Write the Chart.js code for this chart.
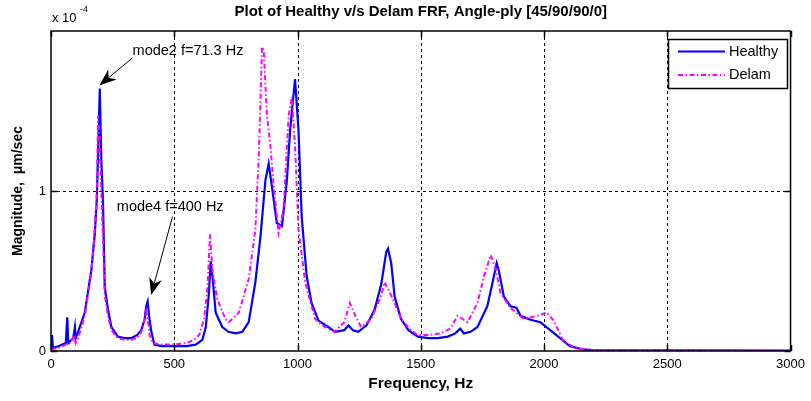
<!DOCTYPE html>
<html>
<head>
<meta charset="utf-8">
<script src="https://cdn.jsdelivr.net/npm/chart.js@4.4.1/dist/chart.umd.min.js"></script>
<style>
  html, body { margin: 0; padding: 0; background: #fff; }
</style>
</head>
<body>
<canvas id="frfChart" width="811" height="401"></canvas>
<script>
// FRF magnitude (x 1e-4 um/sec) against frequency (Hz)
const freqHealthy = [0, 4, 8, 30, 60, 66, 70, 90, 97, 100, 110, 137, 150, 164, 177, 186, 192, 198, 204, 211,
  218, 231, 245, 271, 300, 325, 350, 366, 380, 386, 392, 398, 406, 419, 450, 500, 550, 587, 614, 628,
  640, 648, 656, 668, 695, 720, 749, 776, 802, 829, 850, 870, 883, 896, 916, 937, 957, 970, 990, 1004,
  1017, 1037, 1057, 1085, 1125, 1152, 1190, 1206, 1225, 1246, 1280, 1313, 1340, 1360, 1367, 1380, 1394,
  1420, 1450, 1488, 1530, 1569, 1610, 1640, 1660, 1675, 1702, 1730, 1770, 1790, 1808, 1817, 1837, 1864,
  1888, 1905, 1945, 1985, 2025, 2065, 2105, 2158, 2200, 2500, 3000];
const magHealthy = [0.02, 0.10, 0.02, 0.03, 0.05, 0.21, 0.05, 0.08, 0.15, 0.08, 0.12, 0.24, 0.37, 0.51, 0.72, 0.95, 1.30, 1.64, 1.20, 0.93,
  0.40, 0.26, 0.15, 0.09, 0.08, 0.08, 0.10, 0.13, 0.20, 0.28, 0.31, 0.22, 0.13, 0.04, 0.03, 0.03, 0.03, 0.04, 0.07, 0.15,
  0.35, 0.56, 0.45, 0.24, 0.15, 0.12, 0.11, 0.12, 0.18, 0.43, 0.72, 1.07, 1.17, 1.03, 0.80, 0.78, 1.07, 1.38, 1.70, 1.38,
  0.84, 0.47, 0.30, 0.19, 0.15, 0.12, 0.13, 0.16, 0.13, 0.12, 0.16, 0.26, 0.42, 0.62, 0.64, 0.55, 0.34,
  0.20, 0.13, 0.09, 0.08, 0.08, 0.09, 0.11, 0.14, 0.11, 0.12, 0.15, 0.28, 0.42, 0.55, 0.50, 0.34, 0.28,
  0.27, 0.22, 0.195, 0.18, 0.13, 0.08, 0.03, 0.01, 0.005, 0.004, 0.003];

const freqDelam = [0, 30, 60, 80, 95, 100, 110, 137, 150, 164, 177, 186, 191, 196, 204, 211, 218, 231, 245, 271,
  300, 325, 350, 366, 380, 386, 392, 400, 412, 450, 500, 550, 580, 601, 621, 635, 645, 655, 675, 708,
  722, 762, 802, 829, 843, 856, 863, 876, 889, 903, 923, 943, 964, 977, 990, 1004, 1031, 1071, 1110, 1150,
  1190, 1212, 1235, 1258, 1300, 1340, 1353, 1370, 1394, 1420, 1460, 1488, 1528, 1580, 1620, 1649, 1670, 1690,
  1730, 1757, 1784, 1804, 1824, 1864, 1918, 1972, 2012, 2039, 2079, 2132, 2200, 2500, 3000];
const magDelam = [0.01, 0.02, 0.04, 0.05, 0.10, 0.05, 0.08, 0.22, 0.35, 0.50, 0.75, 1.00, 1.47, 1.35, 1.00, 0.70, 0.35, 0.22, 0.13, 0.08,
  0.07, 0.07, 0.08, 0.12, 0.20, 0.25, 0.20, 0.10, 0.05, 0.04, 0.04, 0.05, 0.07, 0.10, 0.20, 0.40, 0.73, 0.50, 0.32, 0.20,
  0.18, 0.24, 0.45, 0.76, 1.22, 1.90, 1.88, 1.47, 1.30, 1.04, 0.74, 0.88, 1.47, 1.59, 1.28, 0.76, 0.43, 0.20, 0.15, 0.12,
  0.18, 0.30, 0.22, 0.15, 0.20, 0.35, 0.43, 0.38, 0.30, 0.20, 0.13, 0.10, 0.10, 0.11, 0.14, 0.22, 0.20, 0.18,
  0.30, 0.47, 0.60, 0.51, 0.36, 0.27, 0.20, 0.22, 0.24, 0.19, 0.06, 0.015, 0.005, 0.004, 0.003];

const xTicks = [0, 500, 1000, 1500, 2000, 2500, 3000];
const yTicks = [0, 1];
const seriesNames = ['Healthy', 'Delam'];

const FONT = "'Liberation Sans', Arial, sans-serif";
const BLUE = '#0000ff';
const MAGENTA = '#ff00ff';
const DASHDOT = [5, 2.5, 1.5, 2.5];

const toPoints = (xs, ys) => xs.map((f, i) => ({ x: f, y: ys[i] }));

// line with a notched, filled head at (x1, y1)
function drawArrow(ctx, x0, y0, x1, y1) {
  const ang = Math.atan2(y1 - y0, x1 - x0);
  const c = Math.cos(ang), s = Math.sin(ang);
  const len = 17, half = 6.5, notch = 12;
  const nx = x1 - c * notch, ny = y1 - s * notch;
  const bx = x1 - c * len, by = y1 - s * len;
  ctx.beginPath();
  ctx.moveTo(x0, y0);
  ctx.lineTo(nx, ny);
  ctx.stroke();
  ctx.beginPath();
  ctx.moveTo(x1, y1);
  ctx.lineTo(bx + s * half, by - c * half);
  ctx.lineTo(nx, ny);
  ctx.lineTo(bx - s * half, by + c * half);
  ctx.closePath();
  ctx.fill();
}

const framePlugin = {
  id: 'frame',
  beforeDatasetsDraw(chart) {
    const { ctx, chartArea: a, scales: { x, y } } = chart;
    ctx.save();
    ctx.strokeStyle = '#000';
    ctx.lineWidth = 1;
    ctx.setLineDash([3, 3]);
    xTicks.slice(1, -1).forEach(v => {
      const px = Math.round(x.getPixelForValue(v)) + 0.5;
      ctx.beginPath(); ctx.moveTo(px, a.top); ctx.lineTo(px, a.bottom); ctx.stroke();
    });
    yTicks.slice(1).forEach(v => {
      const py = Math.round(y.getPixelForValue(v)) + 0.5;
      ctx.beginPath(); ctx.moveTo(a.left, py); ctx.lineTo(a.right, py); ctx.stroke();
    });
    ctx.restore();
  },
  afterDatasetsDraw(chart) {
    const { ctx, chartArea: a, scales: { x, y } } = chart;
    ctx.save();
    ctx.strokeStyle = '#000';
    ctx.lineWidth = 1.5;
    ctx.strokeRect(a.left, a.top, a.right - a.left, a.bottom - a.top);
    const t = 6;
    xTicks.forEach(v => {
      const px = Math.round(x.getPixelForValue(v)) + 0.5;
      ctx.beginPath();
      ctx.moveTo(px, a.bottom); ctx.lineTo(px, a.bottom - t);
      ctx.moveTo(px, a.top); ctx.lineTo(px, a.top + t);
      ctx.stroke();
    });
    yTicks.forEach(v => {
      const py = Math.round(y.getPixelForValue(v)) + 0.5;
      ctx.beginPath();
      ctx.moveTo(a.left, py); ctx.lineTo(a.left + t, py);
      ctx.moveTo(a.right, py); ctx.lineTo(a.right - t, py);
      ctx.stroke();
    });
    ctx.restore();
  },
  afterDraw(chart) {
    const { ctx, chartArea: a, scales: { x, y } } = chart;
    const cx = (a.left + a.right) / 2;
    ctx.save();
    ctx.fillStyle = '#000';
    ctx.textBaseline = 'middle';

    // title and axis labels
    ctx.font = 'bold 15px ' + FONT;
    ctx.textAlign = 'center';
    ctx.fillText('Plot of Healthy v/s Delam FRF, Angle-ply [45/90/90/0]', cx, 12);
    ctx.font = 'bold 15.5px ' + FONT;
    ctx.fillText('Frequency, Hz', cx, 384);
    ctx.save();
    ctx.translate(18, (a.top + a.bottom) / 2);
    ctx.rotate(-Math.PI / 2);
    ctx.font = 'bold 14px ' + FONT;
    ctx.fillText('Magnitude,  \u03bcm/sec', 0, 0);
    ctx.restore();

    // exponent of the y axis
    ctx.font = '13px ' + FONT;
    ctx.textAlign = 'left';
    ctx.fillText('x 10', 52, 18);
    ctx.font = '9px ' + FONT;
    ctx.fillText('-4', 80, 10);

    // mode annotations
    ctx.font = '14.5px ' + FONT;
    ctx.strokeStyle = '#000';
    ctx.lineWidth = 1;
    ctx.fillText('mode2 f=71.3 Hz', x.getPixelForValue(331), y.getPixelForValue(1.875));
    drawArrow(ctx, x.getPixelForValue(329), y.getPixelForValue(1.83), x.getPixelForValue(196), y.getPixelForValue(1.66));
    ctx.fillText('mode4 f=400 Hz', x.getPixelForValue(267), y.getPixelForValue(0.9));
    drawArrow(ctx, x.getPixelForValue(493), y.getPixelForValue(0.84), x.getPixelForValue(406), y.getPixelForValue(0.35));

    // legend box
    const lx = 668, ly = 39, lw = 119, lh = 49;
    ctx.fillStyle = '#fff';
    ctx.fillRect(lx, ly, lw, lh);
    ctx.strokeStyle = '#000';
    ctx.lineWidth = 1.5;
    ctx.strokeRect(lx + 0.5, ly + 0.5, lw, lh);
    const rows = [
      { name: seriesNames[0], color: BLUE, dash: [], yy: 51.5 },
      { name: seriesNames[1], color: MAGENTA, dash: DASHDOT, yy: 75 }
    ];
    ctx.font = '14.5px ' + FONT;
    rows.forEach(r => {
      ctx.strokeStyle = r.color;
      ctx.lineWidth = 2;
      ctx.setLineDash(r.dash);
      ctx.beginPath(); ctx.moveTo(678, r.yy); ctx.lineTo(725, r.yy); ctx.stroke();
      ctx.setLineDash([]);
      ctx.fillStyle = '#000';
      ctx.fillText(r.name, 729, r.yy);
    });
    ctx.restore();
  }
};

new Chart(document.getElementById('frfChart'), {
  type: 'line',
  data: {
    datasets: [
      {
        label: seriesNames[0],
        data: toPoints(freqHealthy, magHealthy),
        borderColor: BLUE,
        borderWidth: 2.2,
        pointRadius: 0,
        tension: 0,
        fill: false,
        order: 1
      },
      {
        label: seriesNames[1],
        data: toPoints(freqDelam, magDelam),
        borderColor: MAGENTA,
        borderWidth: 2,
        borderDash: DASHDOT,
        pointRadius: 0,
        tension: 0,
        fill: false,
        order: 0
      }
    ]
  },
  options: {
    responsive: false,
    animation: false,
    layout: { padding: { left: 0, right: 16, top: 31, bottom: 0 } },
    plugins: {
      legend: { display: false },
      title: { display: false },
      tooltip: { enabled: false }
    },
    scales: {
      x: {
        type: 'linear',
        min: 0,
        max: 3000,
        afterBuildTicks: s => { s.ticks = xTicks.map(v => ({ value: v })); },
        afterFit: s => { s.height = 50; },
        grid: { display: false, drawTicks: false },
        border: { display: false },
        ticks: {
          color: '#000', padding: 6, maxRotation: 0,
          font: { family: FONT, size: 13 },
          callback: v => String(v)
        }
      },
      y: {
        type: 'linear',
        min: 0,
        max: 2,
        afterBuildTicks: s => { s.ticks = yTicks.map(v => ({ value: v })); },
        afterFit: s => { s.width = 51; },
        grid: { display: false, drawTicks: false },
        border: { display: false },
        ticks: {
          color: '#000', padding: 5,
          font: { family: FONT, size: 13 },
          callback: v => String(v)
        }
      }
    }
  },
  plugins: [framePlugin]
});
</script>
</body>
</html>
